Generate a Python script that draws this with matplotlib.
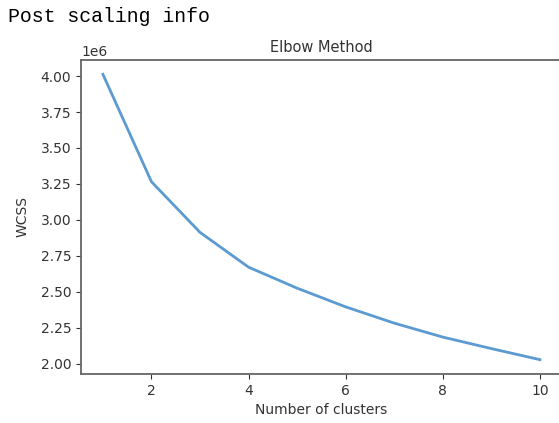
import matplotlib.pyplot as plt

clusters = [1, 2, 3, 4, 5, 6, 7, 8, 9, 10]
wcss = [4.012e6, 3.265e6, 2.913e6, 2.671e6, 2.525e6, 2.395e6, 2.282e6, 2.185e6, 2.105e6, 2.028e6]

fig = plt.figure(figsize=(5.59, 4.23), dpi=100)
fig.text(0.014, 0.96, 'Post scaling info', family='Liberation Mono', fontsize=14.3, va='center')

ax = fig.add_axes([0.145, 0.116, 0.86, 0.742])
ax.plot(clusters, wcss, color='#5b9bd1', linewidth=2)
ax.set_title('Elbow Method', fontsize=10.5, color='#333333')
ax.set_xlabel('Number of clusters', fontsize=10, color='#333333')
ax.set_ylabel('WCSS', fontsize=10, color='#333333', labelpad=8)
ax.tick_params(labelsize=10, colors='#333333')
for s in ax.spines.values():
    s.set_color('#666666')
    s.set_linewidth(1.3)

plt.savefig('out.png', dpi=100)
